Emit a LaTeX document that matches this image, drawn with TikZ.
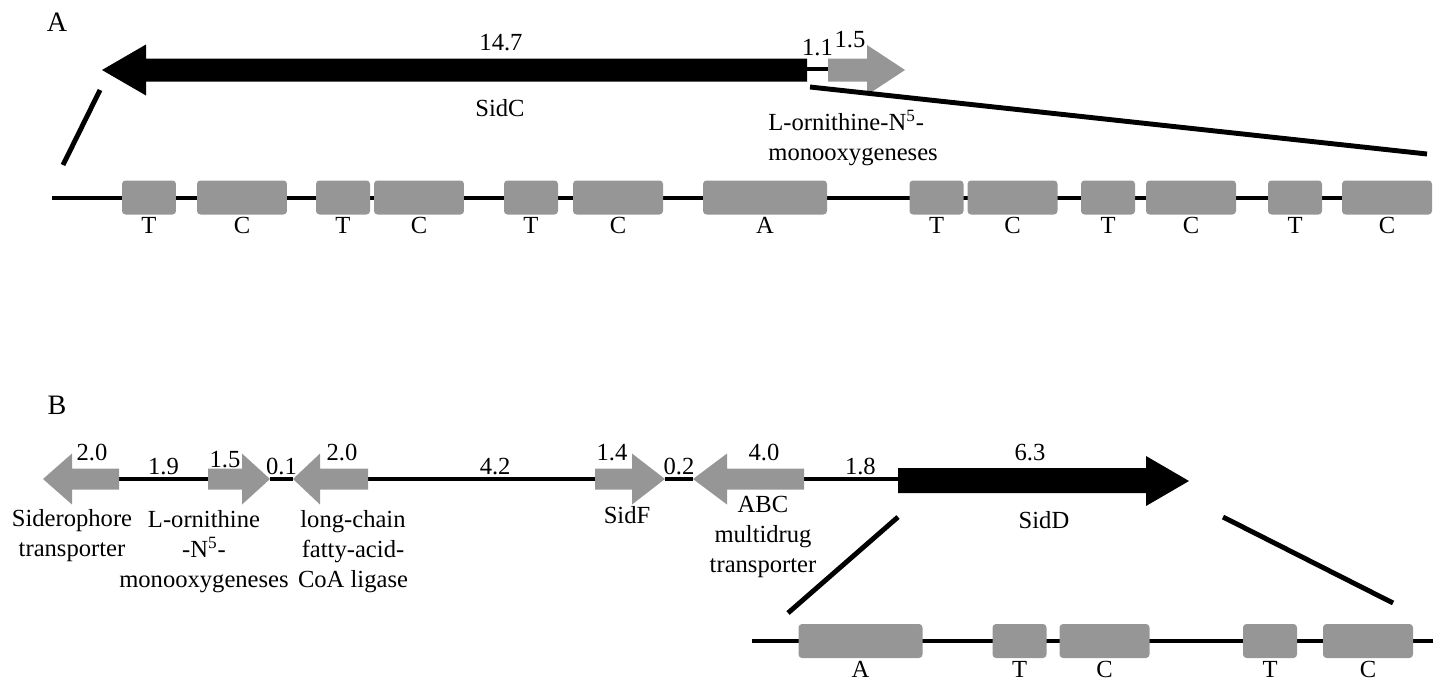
\documentclass[tikz,border=0pt]{standalone}
\usepackage{fontspec}
\setmainfont{Liberation Serif}
\usetikzlibrary{positioning}
\definecolor{genegray}{RGB}{150,150,150}
\tikzset{
	txt/.style= {font=\fontsize{14}{17}\selectfont},
	panel/.style= {font=\fontsize{16}{19}\selectfont},
	dom/.style= {shape= rectangle, fill= genegray, rounded corners= 2pt, minimum height= 0.68cm, inner sep= 0pt},
	domT/.style= {dom, minimum width= 1.08cm},
	domC/.style= {dom, minimum width= 1.8cm},
	domA/.style= {dom, minimum width= 2.48cm},
	spacer/.style= {line width= 2.6pt},
	zoomline/.style= {line width= 2.8pt},
	gap/.style= {above, inner sep= 1pt},
	gene/.style= {fill= genegray},
	sid/.style= {fill= black}
}
\begin{document}
\begin{tikzpicture}[x=0.02cm, y=-0.02cm, every node/.style= {txt}, every label/.style= {label distance= -2pt}]
		\useasboundingbox (0,0) rectangle (1439,683);
		\node [panel] (pA) at (57,22) {A};
		\node [panel] (pB) at (57,405) {B};
		% Cluster A
		\coordinate (SidCw) at (102,70);
		\coordinate (SidCe) at (807,69);
		\coordinate (MonAw) at (828,69);
		\coordinate (MonAe) at (905,70);
		\draw [spacer] (SidCe) to node [gap, above= 5pt] {1.1} (MonAw);
		\fill [sid] (SidCw) -- (146,44.5) -- (146,58.5) -- (807,58.5) -- (807,81.5) -- (146,81.5) -- (146,95.5) -- cycle;
		\fill [gene] (828,58.5) -- (867,58.5) -- (867,45) -- (MonAe) -- (867,95) -- (867,81.5) -- (828,81.5) -- cycle;
		\node (lenSidC) at (501,43) {14.7};
		\node (lenMonA) at (850,40) {1.5};
		\node (SidC) at (500,108) {SidC};
		\node [anchor= north west, inner sep= 0pt, align= left] (MonA) at (768,110) {L-ornithine-N\textsuperscript{5}-\\monooxygeneses};
		%% Domains of SidC
		\coordinate (SidCdw) at (52,198);
		\coordinate (SidCde) at (1425,198);
		\draw [spacer] (SidCdw) -- (SidCde);
		\node [domT, label= below:T] (a1) at (149,197.5) {};
		\node [domC, label= below:C] (a2) at (242,197.5) {};
		\node [domT, label= below:T] (a3) at (343,197.5) {};
		\node [domC, label= below:C] (a4) at (419,197.5) {};
		\node [domT, label= below:T] (a5) at (531,197.5) {};
		\node [domC, label= below:C] (a6) at (618,197.5) {};
		\node [domA, label= below:A] (a7) at (765,197.5) {};
		\node [domT, label= below:T] (a8) at (936.5,197.5) {};
		\node [domC, label= below:C] (a9) at (1012.5,197.5) {};
		\node [domT, label= below:T] (a10) at (1108,197.5) {};
		\node [domC, label= below:C] (a11) at (1191,197.5) {};
		\node [domT, label= below:T] (a12) at (1295,197.5) {};
		\node [domC, label= below:C] (a13) at (1387,197.5) {};
		%% Zoom lines
		\coordinate (zAl1) at (63,165);
		\coordinate (zAl2) at (100,90);
		\coordinate (zAr1) at (810,87);
		\coordinate (zAr2) at (1427,154);
		\draw [zoomline] (zAl1) -- (zAl2);
		\draw [zoomline] (zAr1) -- (zAr2);
		% Cluster B
		\coordinate (Sdtw) at (43,479);
		\coordinate (Sdte) at (119,479);
		\coordinate (MonBw) at (208,479);
		\coordinate (MonBe) at (270,479);
		\coordinate (Ligw) at (293,479);
		\coordinate (Lige) at (368,479);
		\coordinate (SidFw) at (595,479);
		\coordinate (SidFe) at (665,479);
		\coordinate (ABCw) at (693,479);
		\coordinate (ABCe) at (804,479);
		\coordinate (SidDw) at (898,479);
		\coordinate (SidDe) at (1189,481);
		%% Spacers
		\draw [spacer] (Sdte) to node [gap] {1.9} (MonBw);
		\draw [spacer] (MonBe) to node [gap] {0.1} (Ligw);
		\draw [spacer] (Lige) to node [gap, pos= 0.56] {4.2} (SidFw);
		\draw [spacer] (SidFe) to node [gap] {0.2} (ABCw);
		\draw [spacer] (ABCe) to node [gap, pos= 0.6] {1.8} (SidDw);
		%% Genes
		\fill [gene] (Sdtw) -- (72,453.5) -- (72,468.5) -- (119,468.5) -- (119,489.5) -- (72,489.5) -- (72,504.5) -- cycle;
		\fill [gene] (208,468.5) -- (242,468.5) -- (242,453.5) -- (MonBe) -- (242,504.5) -- (242,489.5) -- (208,489.5) -- cycle;
		\fill [gene] (Ligw) -- (320,453.5) -- (320,468.5) -- (368,468.5) -- (368,489.5) -- (320,489.5) -- (320,504.5) -- cycle;
		\fill [gene] (595,468.5) -- (632,468.5) -- (632,453.5) -- (SidFe) -- (632,504.5) -- (632,489.5) -- (595,489.5) -- cycle;
		\fill [gene] (ABCw) -- (727,453.5) -- (727,468.5) -- (804,468.5) -- (804,489.5) -- (727,489.5) -- (727,504.5) -- cycle;
		\fill [sid] (898,468) -- (1146,468) -- (1146,456) -- (SidDe) -- (1146,506) -- (1146,493) -- (898,493) -- cycle;
		\node (lenSdt) at (92,452) {2.0};
		\node (lenMonB) at (225,460) {1.5};
		\node (lenLig) at (342,452) {2.0};
		\node (lenSidF) at (612,453) {1.4};
		\node (lenABC) at (764,452) {4.0};
		\node (lenSidD) at (1030,453) {6.3};
		\node [anchor= north, inner sep= 0pt, align= center] (Sdt) at (72,509) {Siderophore\\transporter};
		\node [anchor= north, inner sep= 0pt, align= center] (MonB) at (204,510) {L-ornithine\\-N\textsuperscript{5}-\\monooxygeneses};
		\node [anchor= north, inner sep= 0pt, align= center] (Lig) at (353,510) {long-chain\\fatty-acid-\\CoA ligase};
		\node (SidF) at (627,515) {SidF};
		\node [anchor= north, inner sep= 0pt, align= center] (ABC) at (763,496) {ABC\\multidrug\\transporter};
		\node (SidD) at (1044,520) {SidD};
		%% Domains of SidD
		\coordinate (SidDdw) at (752,641);
		\coordinate (SidDde) at (1433,641);
		\draw [spacer] (SidDdw) -- (SidDde);
		\node [domA, label= below:A] (b1) at (860.5,641) {};
		\node [domT, label= below:T] (b2) at (1019.5,641) {};
		\node [domC, label= below:C] (b3) at (1104.5,641) {};
		\node [domT, label= below:T] (b4) at (1270,641) {};
		\node [domC, label= below:C] (b5) at (1368,641) {};
		%% Zoom lines
		\coordinate (zBl1) at (788,613);
		\coordinate (zBl2) at (898,517);
		\coordinate (zBr1) at (1223,517);
		\coordinate (zBr2) at (1393,603);
		\draw [zoomline] (zBl1) -- (zBl2);
		\draw [zoomline] (zBr1) -- (zBr2);
	\end{tikzpicture}
\end{document}
